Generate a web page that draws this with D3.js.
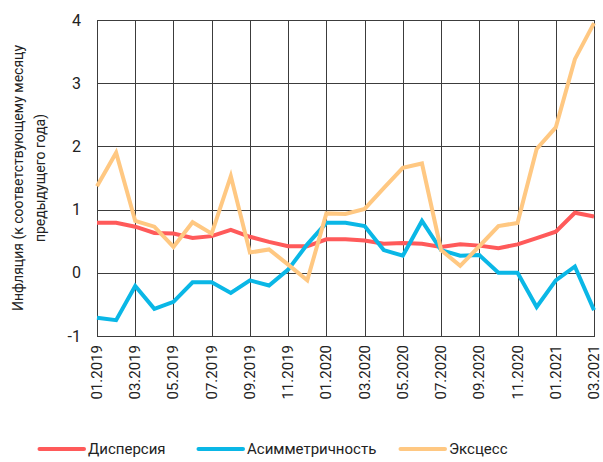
<!DOCTYPE html>
<html>
<head>
<meta charset="utf-8">
<script src="https://cdn.jsdelivr.net/npm/d3@7"></script>
<style>
  body { margin: 0; background: #fff; }
  text { font-family: Roboto, "Noto Sans", sans-serif; fill: #222; }
</style>
</head>
<body>
<svg id="chart" width="603" height="462"></svg>
<script>
// months 01.2019 .. 03.2021
const months = [
  "01.2019","02.2019","03.2019","04.2019","05.2019","06.2019","07.2019","08.2019","09.2019",
  "10.2019","11.2019","12.2019","01.2020","02.2020","03.2020","04.2020","05.2020","06.2020",
  "07.2020","08.2020","09.2020","10.2020","11.2020","12.2020","01.2021","02.2021","03.2021"
];

const dispersion = [0.79,0.79,0.73,0.63,0.62,0.55,0.58,0.68,0.57,0.49,0.42,0.42,0.53,0.53,0.51,0.46,0.47,0.46,0.41,0.45,0.43,0.39,0.45,0.55,0.65,0.95,0.89];
const asymmetry  = [-0.71,-0.75,-0.21,-0.57,-0.46,-0.15,-0.15,-0.32,-0.12,-0.2,0.05,0.45,0.79,0.79,0.74,0.36,0.27,0.82,0.36,0.27,0.28,0.0,0.0,-0.54,-0.12,0.1,-0.59];
const excess     = [1.37,1.9,0.82,0.73,0.41,0.8,0.62,1.53,0.32,0.37,0.13,-0.12,0.94,0.93,1.01,1.34,1.66,1.73,0.36,0.11,0.42,0.74,0.79,1.96,2.3,3.38,3.95];

const yTicks = [-1, 0, 1, 2, 3, 4];

const series = [
  { name: "Дисперсия", values: dispersion, color: "#ff5a5a" },
  { name: "Асимметричность", values: asymmetry, color: "#0ab7e6" },
  { name: "Эксцесс", values: excess, color: "#ffc882" }
];

const svg = d3.select("#chart");
const plotLeft = 97, plotRight = 594, plotTop = 20, plotBottom = 336;

const x = d3.scalePoint().domain(months).range([plotLeft, plotRight]).padding(0);
const y = d3.scaleLinear().domain([-1, 4]).range([plotBottom, plotTop]);

const gridColor = "#3c3c3c";
const grid = svg.append("g").attr("class", "grid");

// horizontal grid
grid.selectAll("line.h")
  .data(yTicks)
  .enter().append("line")
    .attr("class", "h")
    .attr("x1", plotLeft).attr("x2", plotRight + 1)
    .attr("y1", d => Math.round(y(d)) + 0.5)
    .attr("y2", d => Math.round(y(d)) + 0.5)
    .attr("stroke", gridColor).attr("stroke-width", 1);

// vertical grid every two months
const tickMonths = months.filter((m, i) => i % 2 === 0);
grid.selectAll("line.v")
  .data(tickMonths)
  .enter().append("line")
    .attr("class", "v")
    .attr("x1", d => Math.round(x(d)) + 0.5)
    .attr("x2", d => Math.round(x(d)) + 0.5)
    .attr("y1", plotTop).attr("y2", plotBottom)
    .attr("stroke", gridColor).attr("stroke-width", 1);

// y axis labels
svg.append("g")
  .selectAll("text")
  .data(yTicks)
  .enter().append("text")
    .attr("x", 81)
    .attr("y", d => y(d))
    .attr("dy", "0.35em")
    .attr("text-anchor", "end")
    .attr("font-size", "16px")
    .text(d => d);

// x axis labels, rotated
svg.append("g")
  .selectAll("text")
  .data(tickMonths)
  .enter().append("text")
    .attr("transform", d => `translate(${x(d) + 5},${plotBottom + 9}) rotate(-90)`)
    .attr("text-anchor", "end")
    .attr("font-size", "15px")
    .text(d => d);

// y axis title
const title = svg.append("text")
  .attr("transform", `translate(0,${(plotTop + plotBottom) / 2}) rotate(-90)`)
  .attr("text-anchor", "middle")
  .attr("font-size", "14px");
title.append("tspan").attr("x", 0).attr("y", 23).text("Инфляция (к соответствующему месяцу");
title.append("tspan").attr("x", 0).attr("y", 45).text("предыдущего года)");

// lines
const line = d3.line()
  .x((d, i) => x(months[i]))
  .y(d => y(d));

svg.append("g")
  .selectAll("path")
  .data(series)
  .enter().append("path")
    .attr("d", d => line(d.values))
    .attr("fill", "none")
    .attr("stroke", d => d.color)
    .attr("stroke-width", 4);

// legend
const legendX = [38, 197, 399];
const legend = svg.append("g")
  .selectAll("g")
  .data(series)
  .enter().append("g")
    .attr("transform", (d, i) => `translate(${legendX[i]},449)`);

legend.append("line")
  .attr("x1", 1.5).attr("x2", 46)
  .attr("y1", 0).attr("y2", 0)
  .attr("stroke", d => d.color)
  .attr("stroke-width", 4)
  .attr("stroke-linecap", "round");

legend.append("text")
  .attr("x", 50)
  .attr("y", 0)
  .attr("dy", "0.35em")
  .attr("font-size", "15px")
  .text(d => d.name);
</script>
</body>
</html>
